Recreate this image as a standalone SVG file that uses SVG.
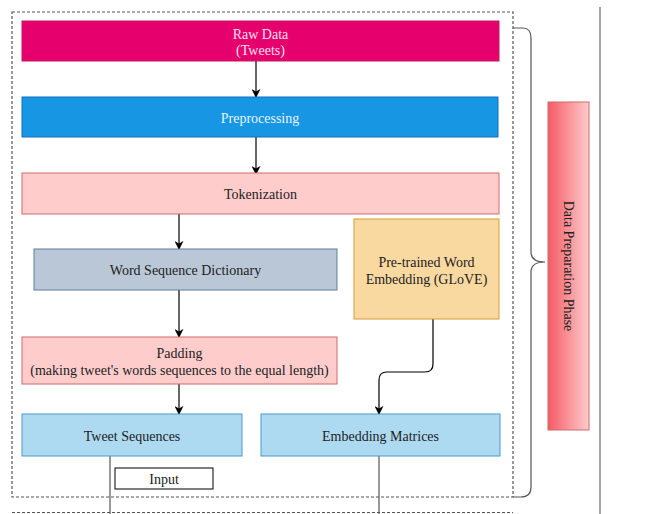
<svg xmlns="http://www.w3.org/2000/svg" width="653" height="514" viewBox="0 0 653 514">
<defs>
<linearGradient id="gPhase" x1="0" y1="0" x2="1" y2="0">
<stop offset="0" stop-color="#F45B66"/>
<stop offset="1" stop-color="#FFCCCC"/>
</linearGradient>
<marker id="arr" viewBox="0 0 10 10" refX="9" refY="5" markerWidth="9" markerHeight="9" markerUnits="userSpaceOnUse" orient="auto">
<path d="M0,0 L10,5 L0,10 L3,5 Z" fill="#000"/>
</marker>
</defs>
<style>
text{font-family:"Liberation Serif","Times New Roman",serif;font-size:14px;fill:#222;text-anchor:middle;dominant-baseline:central}
.con{fill:none;stroke:#000;stroke-width:1.2}
.gl{fill:none;stroke:#555;stroke-width:1.2}
</style>
<rect x="0" y="0" width="653" height="514" fill="#fff"/>
<rect x="12" y="12" width="501" height="485" fill="none" stroke="#555" stroke-width="1.2" stroke-dasharray="3 2"/>
<line x1="12" y1="512.5" x2="513" y2="512.5" stroke="#555" stroke-width="1.2" stroke-dasharray="3 2"/>
<line x1="600" y1="7" x2="600" y2="514" stroke="#666" stroke-width="1.2"/>
<g id="connectors">
<path class="con" d="M256,61 V97" marker-end="url(#arr)"/>
<path class="con" d="M256,137 V174" marker-end="url(#arr)"/>
<path class="con" d="M179,214 V249" marker-end="url(#arr)"/>
<path class="con" d="M179,290 V337" marker-end="url(#arr)"/>
<path class="con" d="M179,384 V414" marker-end="url(#arr)"/>
<path class="con" d="M433,319 V364 Q433,372 425,372 H387 Q379,372 379,380 V414" marker-end="url(#arr)"/>
<path class="gl" d="M110,456 V514"/>
<path class="gl" d="M379,456 V514"/>
<path class="gl" d="M513,28 H523 Q531,28 531,38 V252 Q531,262 545,262 Q531,262 531,272 V487 Q531,497 521,497 H513"/>
</g>
<g id="raw-data">
<rect x="22" y="21" width="477" height="40" fill="#E6006E" stroke="#C0185A"/>
<text x="260.5" y="34" style="fill:#FFE0EE">Raw Data</text>
<text x="260.5" y="50" style="fill:#FFE0EE">(Tweets)</text>
</g>
<g id="preprocessing">
<rect x="22" y="97" width="476" height="40" fill="#1796E3" stroke="#1070C0"/>
<text x="260" y="118" style="fill:#E6F3FF">Preprocessing</text>
</g>
<g id="tokenization">
<rect x="22" y="173" width="477" height="41" fill="#FFCCCC" stroke="#D06A6A"/>
<text x="260.5" y="194">Tokenization</text>
</g>
<g id="word-sequence-dictionary">
<rect x="34" y="249" width="303" height="41" fill="#B9C7D6" stroke="#5F7F9F"/>
<text x="185.5" y="270">Word Sequence Dictionary</text>
</g>
<g id="pretrained-embedding">
<rect x="354" y="219" width="145" height="100" fill="#FAD9A1" stroke="#D79B36"/>
<text x="426.5" y="262">Pre-trained Word</text>
<text x="426.5" y="279">Embedding (GLoVE)</text>
</g>
<g id="padding">
<rect x="22" y="337" width="315" height="47" fill="#FFCCCC" stroke="#D06A6A"/>
<text x="179.5" y="353">Padding</text>
<text x="179.5" y="370">(making tweet's words sequences to the equal length)</text>
</g>
<g id="tweet-sequences">
<rect x="22" y="414" width="220" height="42" fill="#ADDAF0" stroke="#4A9AC8"/>
<text x="132" y="436">Tweet Sequences</text>
</g>
<g id="embedding-matrices">
<rect x="261" y="414" width="239" height="42" fill="#ADDAF0" stroke="#4A9AC8"/>
<text x="380.5" y="436">Embedding Matrices</text>
</g>
<g id="input">
<rect x="115" y="468" width="98" height="21" fill="#fff" stroke="#000"/>
<text x="164" y="479">Input</text>
</g>
<g id="data-preparation-phase">
<rect x="548" y="102" width="41" height="328" fill="url(#gPhase)" stroke="#D06A6A"/>
<text transform="translate(568,266) rotate(90)">Data Preparation Phase</text>
</g>
</svg>
